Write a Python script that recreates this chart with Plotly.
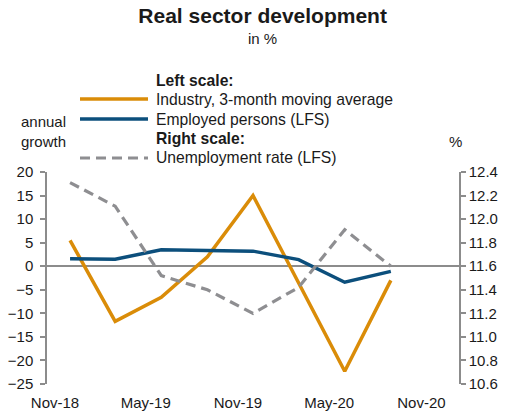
import plotly.graph_objects as go

# quarterly observations (last month of quarter)
dates = ["2018-12-01", "2019-03-01", "2019-06-01", "2019-09-01",
         "2019-12-01", "2020-03-01", "2020-06-01", "2020-09-01"]
industry = [5.5, -11.7, -6.6, 2.0, 15.0, -3.5, -22.3, -3.0]
employed = [1.6, 1.5, 3.5, 3.3, 3.2, 1.4, -3.4, -1.1]
unemployment = [12.31, 12.11, 11.52, 11.40, 11.20, 11.42, 11.91, 11.60]

tick_dates = ["2018-11-01", "2019-05-01", "2019-11-01", "2020-05-01", "2020-11-01"]
tick_labels = ["Nov-18", "May-19", "Nov-19", "May-20", "Nov-20"]

ORANGE = "#DA8C08"
BLUE = "#0C4F7C"
GREY = "#8E8E91"
AXIS = "#8C8C8C"
FONT = "Arial, Liberation Sans, sans-serif"

# plot area in pixels: x 47..459, y 172..384
def px(x):
    return (x - 47) / 412

def py(y):
    return (384 - y) / 212

fig = go.Figure()
fig.add_trace(go.Scatter(x=dates, y=industry, mode="lines",
                         name="Industry, 3-month moving average",
                         line=dict(color=ORANGE, width=3.5)))
fig.add_trace(go.Scatter(x=dates, y=employed, mode="lines",
                         name="Employed persons (LFS)",
                         line=dict(color=BLUE, width=3.5)))
fig.add_trace(go.Scatter(x=dates, y=unemployment, mode="lines", yaxis="y2",
                         name="Unemployment rate (LFS)",
                         line=dict(color=GREY, width=3.2, dash="10px,6px")))

# hand-made legend (the Excel one has a long swatch and tight rows)
legend_rows = [
    ("<b>Left scale:</b>", None, None, 80),
    ("Industry, 3-month moving average", ORANGE, "solid", 99),
    ("Employed persons (LFS)", BLUE, "solid", 119),
    ("<b>Right scale:</b>", None, None, 138.5),
    ("Unemployment rate (LFS)", GREY, "dash", 158),
]
annotations = []
shapes = []
for label, color, dash, y in legend_rows:
    annotations.append(dict(text=label, x=px(154), y=py(y), xref="paper", yref="paper",
                            showarrow=False, xanchor="left", yanchor="middle",
                            font=dict(size=15.7)))
    if color:
        shapes.append(dict(type="line", xref="paper", yref="paper",
                           x0=px(80), x1=px(148), y0=py(y), y1=py(y),
                           line=dict(color=color, width=3.5 if dash == "solid" else 3.2,
                                     dash="solid" if dash == "solid" else "10px,6px")))

annotations += [
    dict(text="in %", x=px(262), y=py(38), xref="paper", yref="paper",
         showarrow=False, xanchor="center", yanchor="middle"),
    dict(text="annual<br>growth", x=px(43), y=py(131), xref="paper", yref="paper",
         showarrow=False, align="center", xanchor="center", yanchor="middle"),
    dict(text="%", x=px(455), y=py(142), xref="paper", yref="paper",
         showarrow=False, xanchor="center", yanchor="middle"),
]

fig.update_layout(
    width=508, height=414,
    margin=dict(l=47, r=49, t=172, b=30, autoexpand=False),
    paper_bgcolor="white", plot_bgcolor="white",
    font=dict(family=FONT, size=15, color="#1a1a1a"),
    showlegend=False,
    title=dict(text="<b>Real sector development</b>", font=dict(size=21),
               x=0.517, xanchor="center", xref="container",
               y=1 - 16 / 414, yanchor="middle", yref="container"),
    xaxis=dict(type="date", range=["2018-10-16", "2021-01-15"],
               tickvals=tick_dates, ticktext=tick_labels, automargin=False,
               showgrid=False, showline=False, zeroline=False, ticks="",
               ticklabelstandoff=8),
    yaxis=dict(range=[-25, 20], dtick=5, showgrid=False, automargin=False,
               showline=True, linecolor=AXIS, linewidth=1.5,
               ticks="outside", ticklen=5, tickcolor=AXIS, tickwidth=1.5,
               ticklabelstandoff=4,
               zeroline=True, zerolinecolor=AXIS, zerolinewidth=1.5),
    yaxis2=dict(range=[10.6, 12.4], dtick=0.2, tickformat=".1f", automargin=False,
                overlaying="y", side="right", showgrid=False,
                showline=True, linecolor=AXIS, linewidth=1.5,
                ticks="outside", ticklen=5, tickcolor=AXIS, tickwidth=1.5,
                zeroline=False),
    annotations=annotations,
    shapes=shapes,
)

# the page body has a default 8px margin; drop it so the chart sits at 0,0
fig.write_html("out.html", config={"displayModeBar": False},
               post_script="document.body.style.margin='0';")
